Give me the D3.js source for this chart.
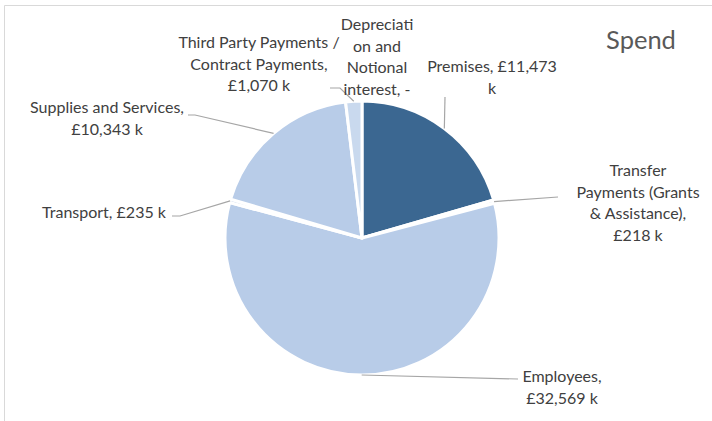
<!DOCTYPE html>
<html>
<head>
<meta charset="utf-8">
<script src="https://cdn.jsdelivr.net/npm/d3@7/dist/d3.min.js"></script>
<style>
  html, body { margin: 0; padding: 0; background: #fff; }
  svg { display: block; }
  text { font-family: "Lato", "Open Sans", sans-serif; }
</style>
</head>
<body>
<svg id="chart" width="712" height="421"></svg>
<script>
// Spend by category, in £ thousands
const categories = [
  "Premises",
  "Transfer Payments (Grants & Assistance)",
  "Employees",
  "Transport",
  "Supplies and Services",
  "Third Party Payments / Contract Payments",
  "Depreciation / Notional interest"
];
const values = [11473, 218, 32569, 235, 10343, 1070, 0];
// Label text, as wrapped lines
const labelLines = [
  ["Premises, £11,473", "k"],
  ["Transfer", "Payments (Grants", "& Assistance),", "£218 k"],
  ["Employees,", "£32,569 k"],
  ["Transport, £235 k"],
  ["Supplies and Services,", "£10,343 k"],
  ["Third Party Payments /", "Contract Payments,", "£1,070 k"],
  ["Depreciati", "on and", "Notional", "interest, -"]
];
const title = "Spend";

// Layout
const W = 712, H = 421;
const cx = 362, cy = 238, R = 137;
const fills = ["#3b6791", "#c5d5eb", "#b8cce8", "#c5d5eb", "#b8cce8", "#c9d9ee", "#c9d9ee"];
// label anchor (centre of first line), and leader end points (label side first)
const labelPos = [
  { x: 492, y: 68, leader: [[445, 97]] },
  { x: 638, y: 172, leader: [[558, 197]] },
  { x: 562, y: 378, leader: [[518, 379]] },
  { x: 104, y: 214, leader: [[172, 216], [180, 216]] },
  { x: 107, y: 109, leader: [[188, 115], [195, 115]] },
  { x: 259, y: 44, leader: [[330, 88], [340, 88]] },
  { x: 377, y: 26, leader: null }
];
const lineH = 21.5;

const svg = d3.select("#chart");

// chart area frame (top and left edges visible)
svg.append("path")
  .attr("d", `M4.5,${H} L4.5,5.5 L${W},5.5`)
  .attr("fill", "none")
  .attr("stroke", "#d9d9d9")
  .attr("stroke-width", 1);

const data = categories.map((c, i) => ({ name: c, value: values[i], i }));
const pie = d3.pie().value(d => d.value).sort(null);
const arcs = pie(data);
const arc = d3.arc().innerRadius(0).outerRadius(R);

const g = svg.append("g").attr("transform", `translate(${cx},${cy})`);
g.selectAll("path.slice")
  .data(arcs.filter(a => a.data.value > 0))
  .join("path")
  .attr("class", "slice")
  .attr("d", arc)
  .attr("fill", d => fills[d.data.i])
  .attr("stroke", "#fff")
  .attr("stroke-width", 3)
  .attr("stroke-linejoin", "round");

// leader lines from each slice's outer mid-point to its label
const leaders = svg.append("g");
arcs.forEach((a, i) => {
  const lp = labelPos[i];
  if (!lp.leader) return;
  const mid = (a.startAngle + a.endAngle) / 2;
  const edge = [cx + R * Math.sin(mid), cy - R * Math.cos(mid)];
  const pts = lp.leader.concat([edge]);
  leaders.append("path")
    .attr("d", d3.line()(pts))
    .attr("fill", "none")
    .attr("stroke", "#a6a6a6")
    .attr("stroke-width", 1.2);
});

// data labels
const labels = svg.append("g")
  .attr("font-size", 16)
  .attr("fill", "#404040")
  .attr("text-anchor", "middle");
labelLines.forEach((lines, i) => {
  const lp = labelPos[i];
  const t = labels.append("text")
    .attr("x", lp.x)
    .attr("y", lp.y)
    .attr("dominant-baseline", "middle");
  lines.forEach((ln, j) => {
    t.append("tspan")
      .attr("x", lp.x)
      .attr("dy", j === 0 ? 0 : lineH)
      .text(ln);
  });
});

// title
svg.append("text")
  .attr("x", 641)
  .attr("y", 43)
  .attr("text-anchor", "middle")
  .attr("dominant-baseline", "middle")
  .attr("font-size", 25.5)
  .attr("fill", "#595959")
  .text(title);
</script>
</body>
</html>
